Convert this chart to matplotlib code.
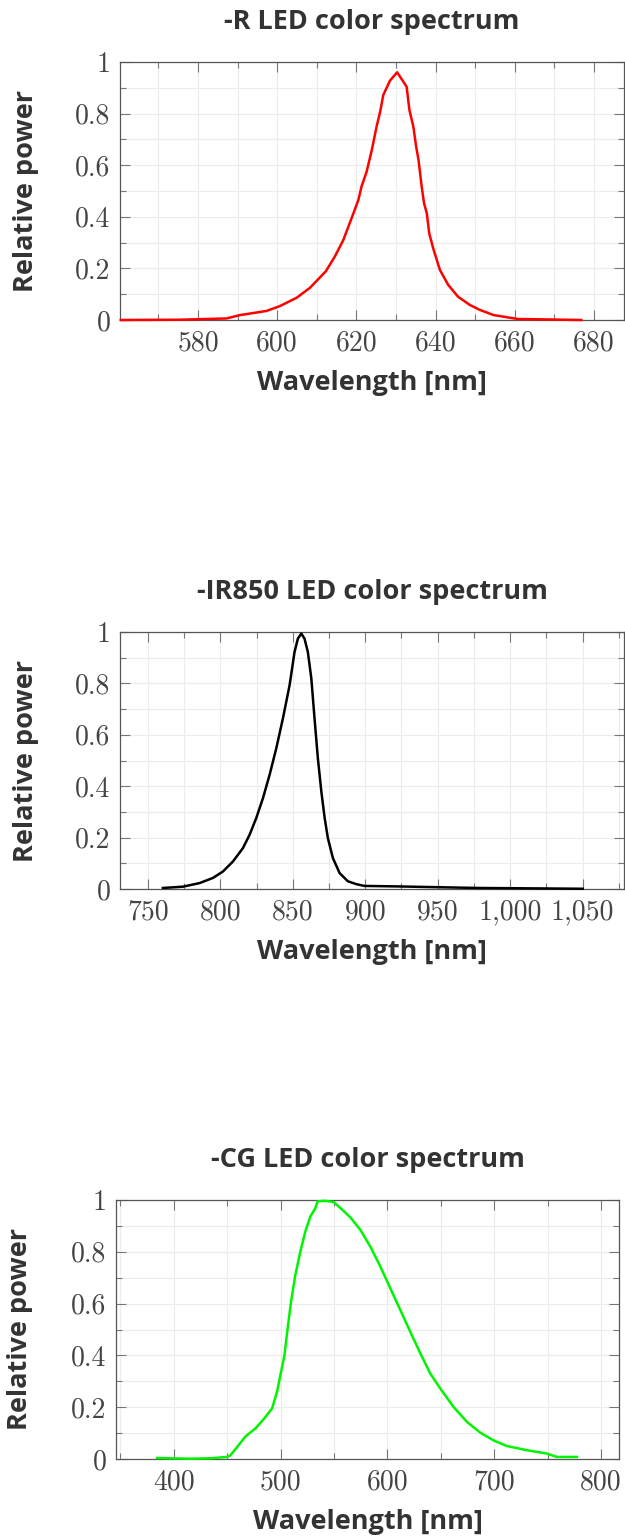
import matplotlib
matplotlib.use("Agg")
import matplotlib.pyplot as plt
from matplotlib.ticker import MultipleLocator, FuncFormatter

# --- data ---
r_wl = [560.5, 575.0, 587.2, 590.6, 597.3, 600.7, 604.9, 608.3, 612.3, 614.6, 616.7,
        619.2, 620.5, 621.3, 622.6, 623.9, 625.1, 626.0, 626.8, 628.5, 630.3, 632.7,
        633.4, 634.4, 635.1, 635.7, 636.5, 637.1, 637.8, 638.4, 639.4, 641.1, 643.2,
        645.7, 648.7, 651.2, 654.7, 660.7, 676.8]
r_pow = [0.0, 0.001, 0.006, 0.019, 0.035, 0.054, 0.086, 0.125, 0.189, 0.247, 0.31,
         0.411, 0.465, 0.517, 0.575, 0.659, 0.749, 0.807, 0.872, 0.928, 0.96, 0.904,
         0.814, 0.749, 0.672, 0.62, 0.517, 0.452, 0.413, 0.336, 0.278, 0.194, 0.136,
         0.09, 0.058, 0.039, 0.019, 0.004, 0.0]

ir_wl = [760.4, 774.2, 785.7, 794.9, 801.8, 808.7, 815.6, 820.2, 824.8, 829.4, 834.0,
         838.6, 843.2, 847.8, 851.2, 853.5, 855.9, 858.1, 860.4, 862.8, 865.0, 867.3,
         869.7, 872.0, 874.2, 877.7, 882.3, 888.0, 893.8, 899.3, 922.7, 977.7, 1050.0]
ir_pow = [0.004, 0.009, 0.023, 0.043, 0.068, 0.107, 0.159, 0.211, 0.276, 0.353, 0.444,
          0.547, 0.664, 0.793, 0.922, 0.974, 0.994, 0.974, 0.922, 0.819, 0.664, 0.509,
          0.379, 0.276, 0.198, 0.12, 0.062, 0.03, 0.019, 0.012, 0.010, 0.004, 0.001]

cg_wl = [384.4, 415.6, 435.0, 449.9, 453.0, 460.0, 467.1, 476.4, 484.2, 492.0, 496.7,
         499.8, 503.6, 506.6, 509.8, 513.8, 518.5, 523.2, 527.9, 532.6, 534.7, 541.9,
         549.7, 556.0, 565.3, 574.6, 584.0, 593.4, 602.7, 612.1, 621.4, 630.8, 640.1,
         649.5, 661.9, 674.5, 686.9, 699.3, 711.9, 730.6, 749.3, 758.6, 777.4]
cg_pow = [0.004, 0.001, 0.003, 0.008, 0.014, 0.05, 0.087, 0.118, 0.154, 0.195, 0.26,
          0.324, 0.401, 0.505, 0.608, 0.711, 0.801, 0.879, 0.937, 0.969, 0.995, 0.997,
          0.992, 0.969, 0.933, 0.885, 0.82, 0.743, 0.659, 0.575, 0.491, 0.408, 0.33,
          0.272, 0.201, 0.143, 0.102, 0.072, 0.05, 0.034, 0.021, 0.008, 0.008]

titles = ["-R LED color spectrum", "-IR850 LED color spectrum", "-CG LED color spectrum"]
colors = ["#ff0000", "#000000", "#00f500"]

W, H = 625, 1539
fig = plt.figure(figsize=(W / 100, H / 100), dpi=100)

# axes boxes in pixels: left, top, right, bottom
boxes = [(120, 62, 624, 320), (120, 632, 624, 889), (116, 1200, 619, 1459)]
xlims = [(560.3, 687.6), (730.8, 1078.5), (345.9, 816.8)]
xmajor = [20, 50, 100]
xticks = [range(580, 681, 20), range(750, 1051, 50), range(400, 801, 100)]
ylab_x = [26, 26, 20]

sans = "Open Sans"
txt_col = "#333333"

series = [(r_wl, r_pow), (ir_wl, ir_pow), (cg_wl, cg_pow)]

for i, (wl, pw) in enumerate(series):
    l, t, r, b = boxes[i]
    ax = fig.add_axes([l / W, 1 - b / H, (r - l) / W, (b - t) / H])
    ax.plot(wl, pw, color=colors[i], lw=1.8, zorder=3, clip_on=False,
            solid_joinstyle="round")
    ax.set_xlim(*xlims[i])
    ax.set_ylim(0, 1)

    ax.set_xticks(list(xticks[i]))
    ax.xaxis.set_minor_locator(MultipleLocator(xmajor[i] / 2))
    ax.yaxis.set_major_locator(MultipleLocator(0.2))
    ax.yaxis.set_minor_locator(MultipleLocator(0.1))
    ax.xaxis.set_major_formatter(FuncFormatter(lambda v, p: f"{v:,.0f}"))
    ax.yaxis.set_major_formatter(FuncFormatter(lambda v, p: f"{v:g}"))

    ax.grid(which="both", color="#ececec", lw=0.8, zorder=0)
    ax.set_axisbelow(True)
    ax.tick_params(which="both", direction="in", top=True, right=True,
                   color="#777777", width=0.8)
    ax.tick_params(which="major", length=7, pad=7, labelsize=20,
                   labelcolor="#444444")
    ax.tick_params(which="minor", length=4.5)
    for lab in ax.get_xticklabels() + ax.get_yticklabels():
        lab.set_fontfamily("cmr10")
    for sp in ax.spines.values():
        sp.set_color("#555555")
        sp.set_linewidth(0.9)

    ax.set_title(titles[i], fontfamily=sans, fontweight="bold", fontsize=19.5,
                 color=txt_col, pad=24)
    ax.set_xlabel("Wavelength [nm]", fontfamily=sans, fontweight="bold",
                  fontsize=19.5, color=txt_col)
    ax.xaxis.label.set_va("baseline")
    ax.xaxis.set_label_coords(0.5, -70 / (b - t))
    ax.set_ylabel("Relative power", fontfamily=sans, fontweight="bold",
                  fontsize=19.5, color=txt_col)
    ax.yaxis.label.set_va("center")
    ax.yaxis.set_label_coords((ylab_x[i] - l) / (r - l), 0.5)

fig.savefig("out.png", dpi=100)
